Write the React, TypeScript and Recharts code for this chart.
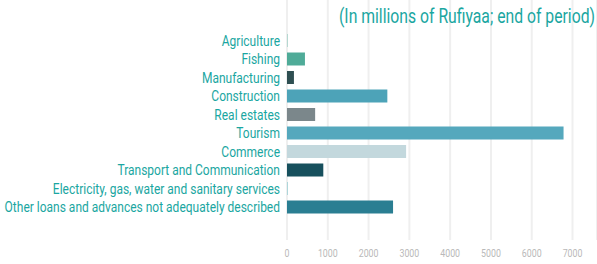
import React from 'react';
import { BarChart, Bar, XAxis, YAxis, CartesianGrid, Cell } from 'recharts';

const sectors = [
  'Agriculture',
  'Fishing',
  'Manufacturing',
  'Construction',
  'Real estates',
  'Tourism',
  'Commerce',
  'Transport and Communication',
  'Electricity, gas, water and sanitary services',
  'Other loans and advances not adequately described',
];

const loans = [15, 440, 170, 2460, 690, 6780, 2920, 890, 20, 2600];

const barColors = [
  '#8fc9bd', '#4fab98', '#2f4f52', '#4da3b8', '#7b878b',
  '#55a8bd', '#c3d8dd', '#17505d', '#9fd0d6', '#2a7e92',
];

const xTicks = [0, 1000, 2000, 3000, 4000, 5000, 6000, 7000];

const chartData = sectors.map((s, i) => ({ sector: s, value: loans[i] }));

const font = 'Roboto, "DejaVu Sans Condensed", sans-serif';
const teal = '#1aa6a1';

// condensed look: squeeze the text horizontally
const YTick = (props: any) => {
  const { x, y, payload } = props;
  return (
    <text
      transform={`translate(${x},${y}) scale(0.8,1)`}
      dy="0.35em"
      textAnchor="end"
      fill={teal}
      fontSize={15}
      fontFamily={font}
    >
      {payload.value}
    </text>
  );
};

const XTick = (props: any) => {
  const { x, y, payload } = props;
  return (
    <text
      transform={`translate(${x},${y + 13}) scale(0.8,1)`}
      dy="0.35em"
      textAnchor="middle"
      fill="#b9b9b9"
      fontSize={11}
      fontFamily={font}
    >
      {payload.value}
    </text>
  );
};

const App = () => {
  return (
    <div style={{ position: 'absolute', left: 0, top: 0, width: 597, height: 264, background: '#fff' }}>
      <BarChart
        width={597}
        height={264}
        data={chartData}
        layout="vertical"
        margin={{ top: 0, right: 0, left: 0, bottom: 0 }}
        barCategoryGap={3}
      >
        <CartesianGrid horizontal={false} stroke="#efefef" strokeWidth={2} />
        <XAxis
          type="number"
          domain={[0, 7600]}
          ticks={xTicks}
          axisLine={false}
          tickLine={false}
          tickSize={0}
          tickMargin={0}
          height={24}
          tick={<XTick />}
          interval={0}
        />
        <YAxis
          type="category"
          dataKey="sector"
          width={287}
          padding={{ top: 31, bottom: 24 }}
          axisLine={false}
          tickLine={false}
          tickSize={0}
          tickMargin={7}
          interval={0}
          tick={<YTick />}
        />
        <Bar dataKey="value" barSize={13} isAnimationActive={false}>
          {chartData.map((d, i) => (
            <Cell key={d.sector} fill={barColors[i]} />
          ))}
        </Bar>
      </BarChart>
      <svg width={597} height={32} style={{ position: 'absolute', left: 0, top: 0 }}>
        <text
          transform="translate(595,16) scale(0.75,1)"
          dy="0.35em"
          textAnchor="end"
          fill={teal}
          fontSize={21}
          fontFamily={font}
        >
          (In millions of Rufiyaa; end of period)
        </text>
      </svg>
    </div>
  );
};

export default App;
